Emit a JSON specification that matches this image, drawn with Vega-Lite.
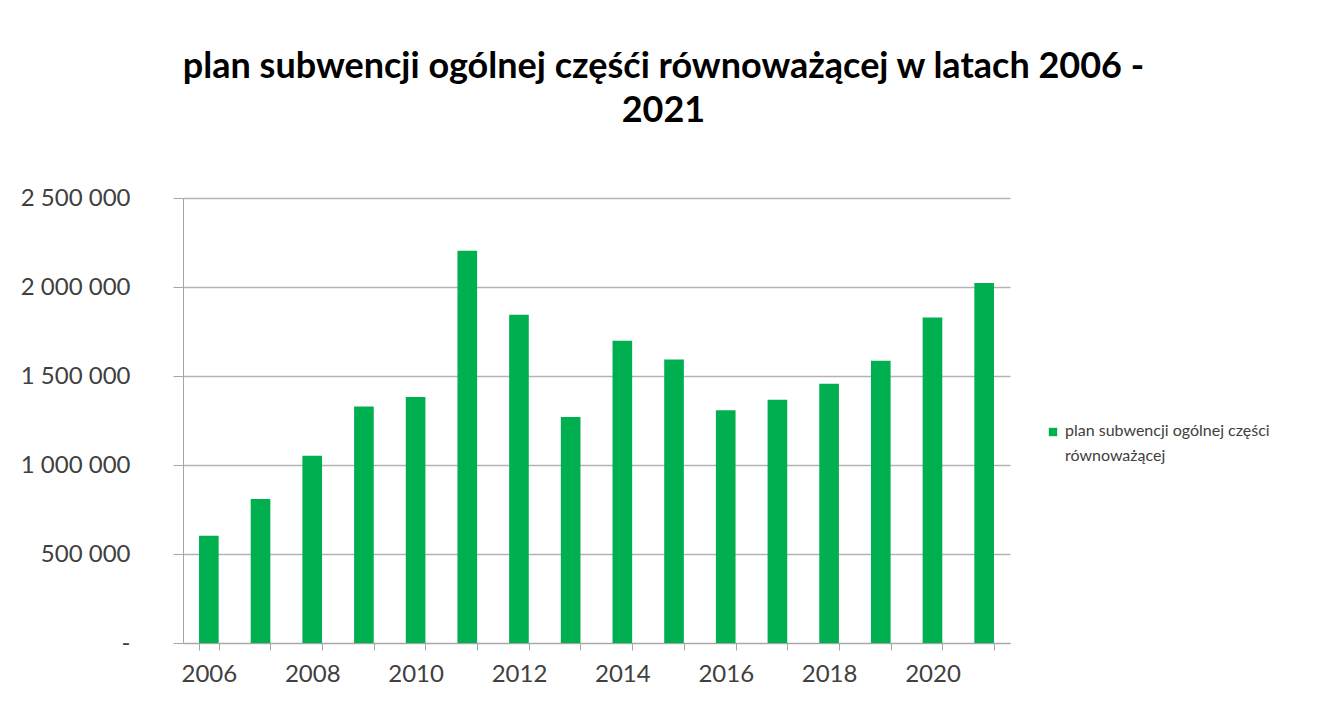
{
  "$schema": "https://vega.github.io/schema/vega-lite/v6.json",
  "autosize": {"type": "none"},
  "width": 827,
  "height": 445,
  "padding": {"left": 183, "top": 198, "right": 317, "bottom": 66},
  "background": "#ffffff",
  "title": {
    "text": ["plan subwencji ogólnej częśći równoważącej w latach 2006 -", "2021"],
    "font": "Lato",
    "fontSize": 36,
    "fontWeight": "bold",
    "color": "#000000",
    "anchor": "middle",
    "frame": "group",
    "dx": 67,
    "lineHeight": 44,
    "offset": 56
  },
  "data": {
    "values": [
      {"year": 2006, "value": 603000},
      {"year": 2007, "value": 809000},
      {"year": 2008, "value": 1052000},
      {"year": 2009, "value": 1329000},
      {"year": 2010, "value": 1382000},
      {"year": 2011, "value": 2204000},
      {"year": 2012, "value": 1844000},
      {"year": 2013, "value": 1270000},
      {"year": 2014, "value": 1698000},
      {"year": 2015, "value": 1592000},
      {"year": 2016, "value": 1307000},
      {"year": 2017, "value": 1367000},
      {"year": 2018, "value": 1457000},
      {"year": 2019, "value": 1586000},
      {"year": 2020, "value": 1829000},
      {"year": 2021, "value": 2022000}
    ]
  },
  "mark": {"type": "bar"},
  "encoding": {
    "x": {
      "field": "year",
      "type": "ordinal",
      "scale": {"paddingInner": 0.62, "paddingOuter": 0.31},
      "axis": {
        "title": null,
        "labelAngle": 0,
        "labelExpr": "datum.value % 2 == 0 ? datum.label : ''",
        "tickBand": "extent",
        "tickSize": 7,
        "tickColor": "#a6a6a6",
        "domainColor": "#a6a6a6",
        "labelFont": "Lato",
        "labelFontSize": 24,
        "labelColor": "#404040",
        "labelPadding": 12,
        "grid": false
      }
    },
    "y": {
      "field": "value",
      "type": "quantitative",
      "scale": {"domain": [0, 2500000], "nice": false},
      "axis": {
        "title": null,
        "values": [0, 500000, 1000000, 1500000, 2000000, 2500000],
        "format": ",d",
        "labelExpr": "datum.value == 0 ? '-' : replace(datum.label, regexp(',', 'g'), ' ')",
        "tickSize": 10,
        "tickColor": "#a6a6a6",
        "domainColor": "#a6a6a6",
        "gridColor": "#b3b3b3",
        "gridWidth": 1.5,
        "labelFont": "Lato",
        "labelFontSize": 24,
        "labelColor": "#404040",
        "labelPadding": 43
      }
    },
    "color": {
      "datum": "plan subwencji ogólnej części równoważącej",
      "scale": {"range": ["#00B050"]},
      "legend": {
        "title": null,
        "orient": "none",
        "legendX": 862,
        "legendY": 226,
        "symbolType": "square",
        "symbolSize": 70,
        "labelFont": "Lato",
        "labelFontSize": 16,
        "labelColor": "#404040",
        "labelLimit": 400,
        "labelExpr": "['plan subwencji ogólnej części', 'równoważącej']",
        "labelBaseline": "middle",
        "encode": {"labels": {"update": {"lineHeight": {"value": 25}, "baseline": {"value": "top"}, "dy": {"value": -9}}}}
      }
    }
  },
  "config": {
    "view": {"stroke": null}
  }
}
